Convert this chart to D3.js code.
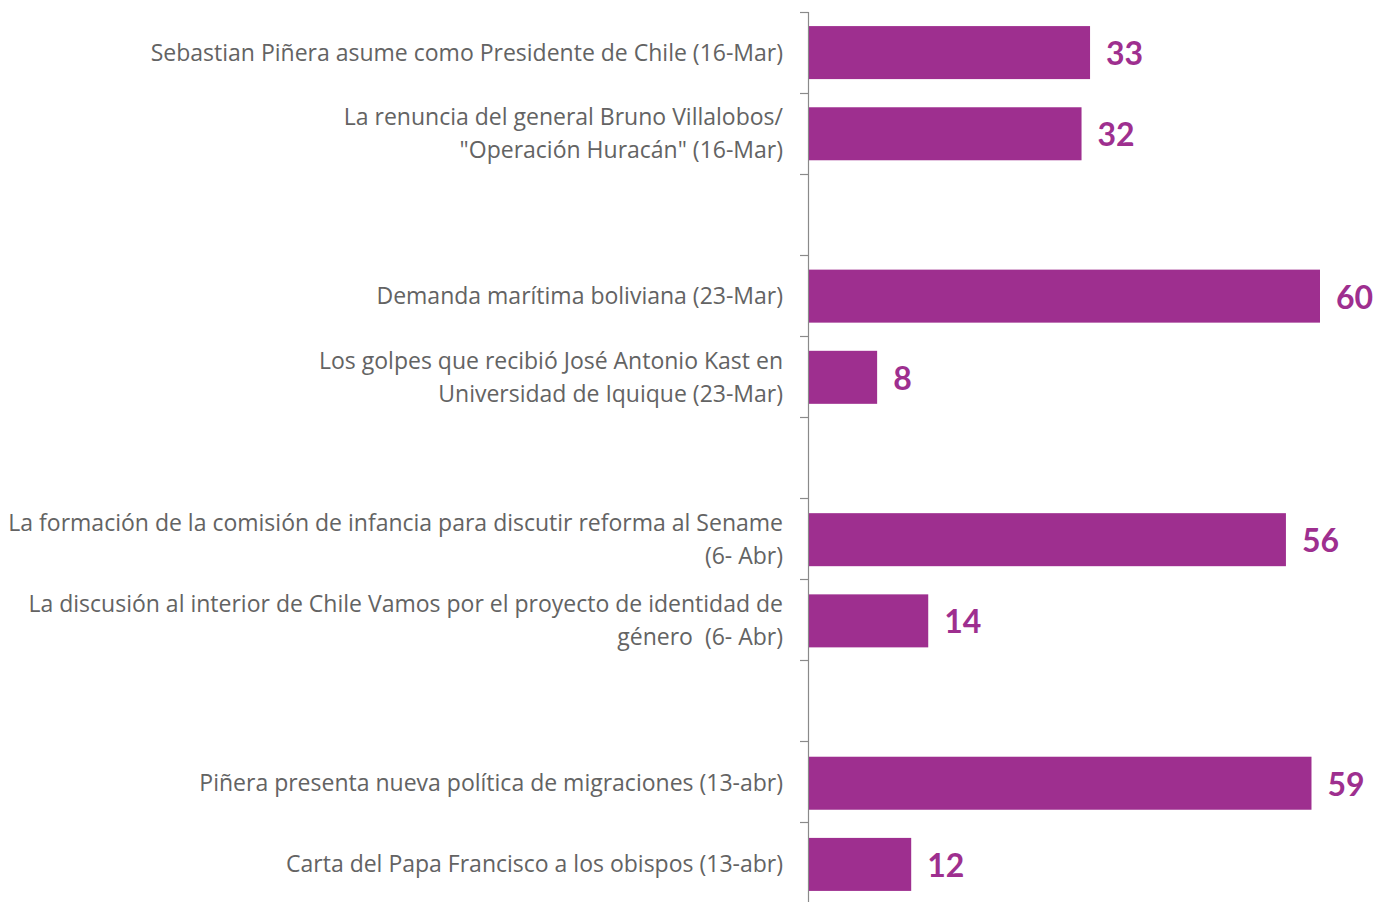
<!DOCTYPE html>
<html><head><meta charset="utf-8">
<script src="https://cdn.jsdelivr.net/npm/d3@7"></script>
<style>body{margin:0;background:#fff}svg{display:block}</style>
</head><body>
<svg id="c" width="1379" height="902"></svg>
<script>
const categories = [
  ["Sebastian Piñera asume como Presidente de Chile (16-Mar)"],
  ["La renuncia del general Bruno Villalobos/", "\"Operación Huracán\" (16-Mar)"],
  null,
  ["Demanda marítima boliviana (23-Mar)"],
  ["Los golpes que recibió José Antonio Kast en", "Universidad de Iquique (23-Mar)"],
  null,
  ["La formación de la comisión de infancia para discutir reforma al Sename", "(6- Abr)"],
  ["La discusión al interior de Chile Vamos por el proyecto de identidad de", "género  (6- Abr)"],
  null,
  ["Piñera presenta nueva política de migraciones (13-abr)"],
  ["Carta del Papa Francisco a los obispos (13-abr)"]
];
const values = [33, 32, null, 60, 8, null, 56, 14, null, 59, 12];

const svg = d3.select("#c");
const purple = "#9E2F8F";
const idx = d3.range(categories.length);
const p = 0.347;
const y = d3.scaleBand().domain(idx).range([12, 905]).paddingInner(p).paddingOuter(p/2);
const x = d3.scaleLinear().domain([0, 60]).range([809, 1320]);
const step = 81;

// axis line and ticks at band boundaries
svg.append("line").attr("x1", 808.5).attr("x2", 808.5).attr("y1", 12).attr("y2", 902)
  .attr("stroke", "#8a8a8a").attr("stroke-width", 1.2);
d3.range(categories.length + 1).forEach(i => {
  const yy = Math.round(12 + i * step) + 0.5;
  svg.append("line").attr("x1", 800).attr("x2", 808.5).attr("y1", yy).attr("y2", yy)
    .attr("stroke", "#8a8a8a").attr("stroke-width", 1.2);
});

const data = idx.filter(i => values[i] != null);

svg.selectAll("rect.bar").data(data).join("rect")
  .attr("x", x(0)).attr("y", i => y(i))
  .attr("width", i => x(values[i]) - x(0)).attr("height", y.bandwidth())
  .attr("fill", purple);

svg.selectAll("text.val").data(data).join("text")
  .attr("x", i => x(values[i]) + 16).attr("y", i => y(i) + y.bandwidth()/2 + 1)
  .attr("dy", "0.36em")
  .attr("font-family", "Lato, 'Open Sans', sans-serif").attr("font-weight", 700)
  .attr("font-size", 32).attr("fill", purple)
  .text(i => values[i]);

const lh = 33;
data.forEach(i => {
  const lines = categories[i];
  const cy = y(i) + y.bandwidth()/2;
  const t = svg.append("text").attr("text-anchor", "end")
    .attr("font-family", "'Open Sans', sans-serif").attr("font-size", 23)
    .attr("fill", "#636363");
  lines.forEach((s, k) => {
    t.append("tspan").attr("x", 783)
      .attr("y", cy + (k - (lines.length - 1)/2) * lh).attr("dy", "0.35em")
      .attr("xml:space", "preserve").style("white-space", "pre").text(s);
  });
});
</script>
</body></html>
